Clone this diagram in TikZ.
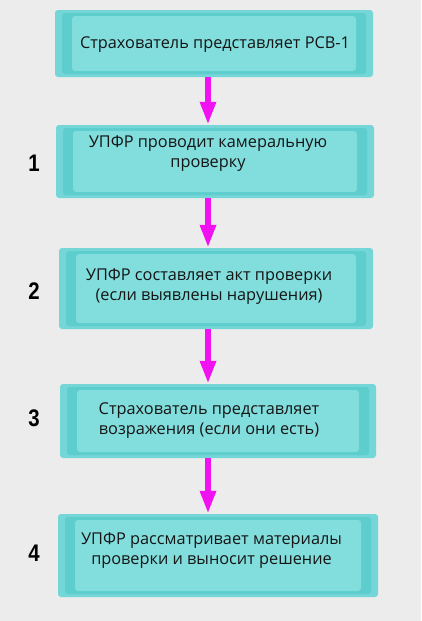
\documentclass[tikz,border=0pt]{standalone}
\usepackage{fontspec}
\usepackage{graphicx}
\setmainfont{Open Sans}
\newfontfamily\numfont{Liberation Sans}
\usetikzlibrary{arrows.meta}
\definecolor{bgc}{HTML}{ECECEC}
\definecolor{tealA}{HTML}{74D6D6}
\definecolor{tealB}{HTML}{5DCDCD}
\definecolor{tealC}{HTML}{82DDDD}
\definecolor{arrc}{HTML}{F012F0}
\definecolor{txtc}{HTML}{151515}
\tikzset{
  stepbox/.style={fill=tealA, rounded corners=3pt, inner sep=0pt,
    path picture={
      \fill[tealB] ([xshift=7pt,yshift=-3pt]path picture bounding box.north west) rectangle ([xshift=-7pt,yshift=3pt]path picture bounding box.south east);
      \fill[tealC] ([xshift=17pt,yshift=-6pt]path picture bounding box.north west) rectangle ([xshift=-17pt,yshift=6pt]path picture bounding box.south east);
    }},
  steptext/.style={align=center, text=txtc, inner sep=0pt, font=\fontsize{16.3}{20}\selectfont},
  stepnum/.style={text=black, inner sep=0pt, font=\numfont\fontsize{24}{24}\selectfont\bfseries},
  flowarrow/.style={draw=arrc, line width=6pt, -{Triangle[length=23pt,width=15pt]}}
}
\begin{document}
\begin{tikzpicture}[x=1pt,y=-1pt]
\fill[bgc] (0,0) rectangle (421,621);
\useasboundingbox (0,0) rectangle (421,621);
\node[stepbox, minimum width=318pt, minimum height=67pt] (b0) at (214,43.5) {};
\node[stepbox, minimum width=318pt, minimum height=73pt] (b1) at (215,161.5) {};
\node[stepbox, minimum width=314pt, minimum height=81pt] (b2) at (216,288.5) {};
\node[stepbox, minimum width=316pt, minimum height=74pt] (b3) at (218,421) {};
\node[stepbox, minimum width=320pt, minimum height=83pt] (b4) at (218,555.5) {};
\node[steptext] (t0) at (215,44.5) {Страхователь представляет РСВ-1};
\node[steptext] (t1) at (208,154) {УПФР проводит камеральную\\проверку};
\node[steptext] (t2) at (209,286.5) {УПФР составляет акт проверки\\(если выявлены нарушения)};
\node[steptext] (t3) at (209,421) {Страхователь представляет\\возражения (если они есть)};
\node[steptext] (t4) at (211.5,551) {УПФР рассматривает материалы\\проверки и выносит решение};
\node[stepnum] (n1) at (34,163.5) {\scalebox{0.85}[1]{1}};
\node[stepnum] (n2) at (34,291.5) {\scalebox{0.85}[1]{2}};
\node[stepnum] (n3) at (34,418.5) {\scalebox{0.85}[1]{3}};
\node[stepnum] (n4) at (34,553.5) {\scalebox{0.85}[1]{4}};
\coordinate (ax) at (208,0);
\draw[flowarrow] (b0.south -| ax) -- (b1.north -| ax);
\draw[flowarrow] (b1.south -| ax) -- (b2.north -| ax);
\draw[flowarrow] (b2.south -| ax) -- (b3.north -| ax);
\draw[flowarrow] (b3.south -| ax) -- (b4.north -| ax);
\end{tikzpicture}
\end{document}
